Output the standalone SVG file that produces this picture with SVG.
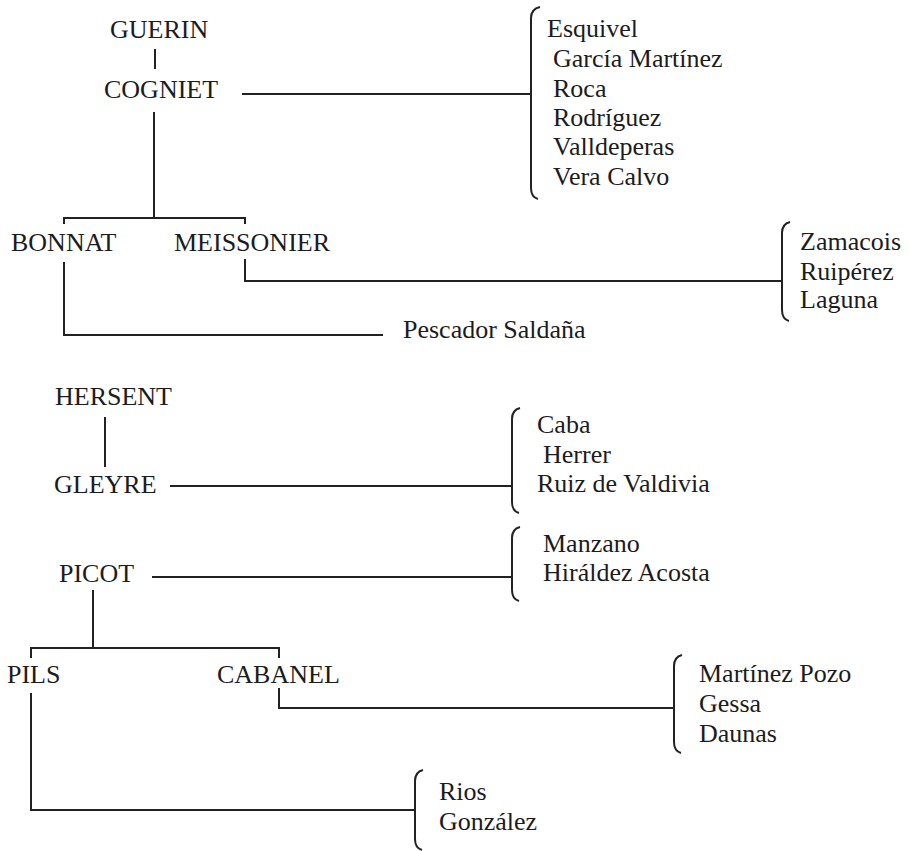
<svg xmlns="http://www.w3.org/2000/svg" width="909" height="851" viewBox="0 0 909 851">
<style>
text{font-family:"Liberation Serif","Times New Roman",serif;font-size:26px;fill:#1c1c1c}
.c path,.c line,.c polyline{fill:none;stroke:#222;stroke-width:2}
.b{fill:none;stroke:#222;stroke-width:2}
</style>
<rect width="909" height="851" fill="#fff"/>
<g class="c" id="connectors">
<line x1="155" y1="49" x2="155" y2="69"/>
<line x1="242" y1="94" x2="531" y2="94"/>
<line x1="154" y1="112" x2="154" y2="218"/>
<polyline points="64,224 64,218 245,218 245,224"/>
<polyline points="245,259 245,281 782,281"/>
<polyline points="64,262 64,335 383,335"/>
<line x1="105" y1="417" x2="105" y2="467"/>
<line x1="170" y1="486" x2="512" y2="486"/>
<line x1="152" y1="577" x2="512" y2="577"/>
<line x1="93" y1="590" x2="93" y2="648"/>
<polyline points="31,658 31,648 279,648 279,658"/>
<polyline points="279,688 279,708 674,708"/>
<polyline points="31,693 31,810 415,810"/>
</g>
<g id="guerin"><text x="110" y="38">GUERIN</text></g>
<g id="cogniet"><text x="104" y="98">COGNIET</text></g>
<g id="cogniet-students">
<path class="b" d="M540 7 Q531 9 531 18 L531 188 Q531 197 538 199"/>
<text x="547" y="37">Esquivel</text>
<text x="553" y="67">García Martínez</text>
<text x="553" y="97">Roca</text>
<text x="553" y="126">Rodríguez</text>
<text x="553" y="155">Valldeperas</text>
<text x="553" y="185">Vera Calvo</text>
</g>
<g id="bonnat"><text x="11" y="251">BONNAT</text></g>
<g id="meissonier"><text x="174" y="251">MEISSONIER</text></g>
<g id="meissonier-students">
<path class="b" d="M790 222 Q782 224 782 233 L782 310 Q782 319 789 321"/>
<text x="800" y="250">Zamacois</text>
<text x="800" y="280">Ruipérez</text>
<text x="800" y="308">Laguna</text>
</g>
<g id="pescador"><text x="403" y="338">Pescador Saldaña</text></g>
<g id="hersent"><text x="55" y="405">HERSENT</text></g>
<g id="gleyre"><text x="54" y="493">GLEYRE</text></g>
<g id="gleyre-students">
<path class="b" d="M520 408 Q512 410 512 419 L512 502 Q512 511 519 513"/>
<text x="537" y="433">Caba</text>
<text x="543" y="463">Herrer</text>
<text x="537" y="492">Ruiz de Valdivia</text>
</g>
<g id="picot"><text x="59" y="582">PICOT</text></g>
<g id="picot-students">
<path class="b" d="M520 527 Q512 529 512 538 L512 590 Q512 599 519 601"/>
<text x="543" y="552">Manzano</text>
<text x="543" y="581">Hiráldez Acosta</text>
</g>
<g id="pils"><text x="7" y="683">PILS</text></g>
<g id="cabanel"><text x="217" y="683">CABANEL</text></g>
<g id="cabanel-students">
<path class="b" d="M682 655 Q674 657 674 666 L674 742 Q674 751 681 753"/>
<text x="699" y="682">Martínez Pozo</text>
<text x="699" y="712">Gessa</text>
<text x="699" y="742">Daunas</text>
</g>
<g id="pils-students">
<path class="b" d="M423 770 Q415 772 415 781 L415 839 Q415 848 422 850"/>
<text x="439" y="800">Rios</text>
<text x="439" y="830">González</text>
</g>
</svg>
